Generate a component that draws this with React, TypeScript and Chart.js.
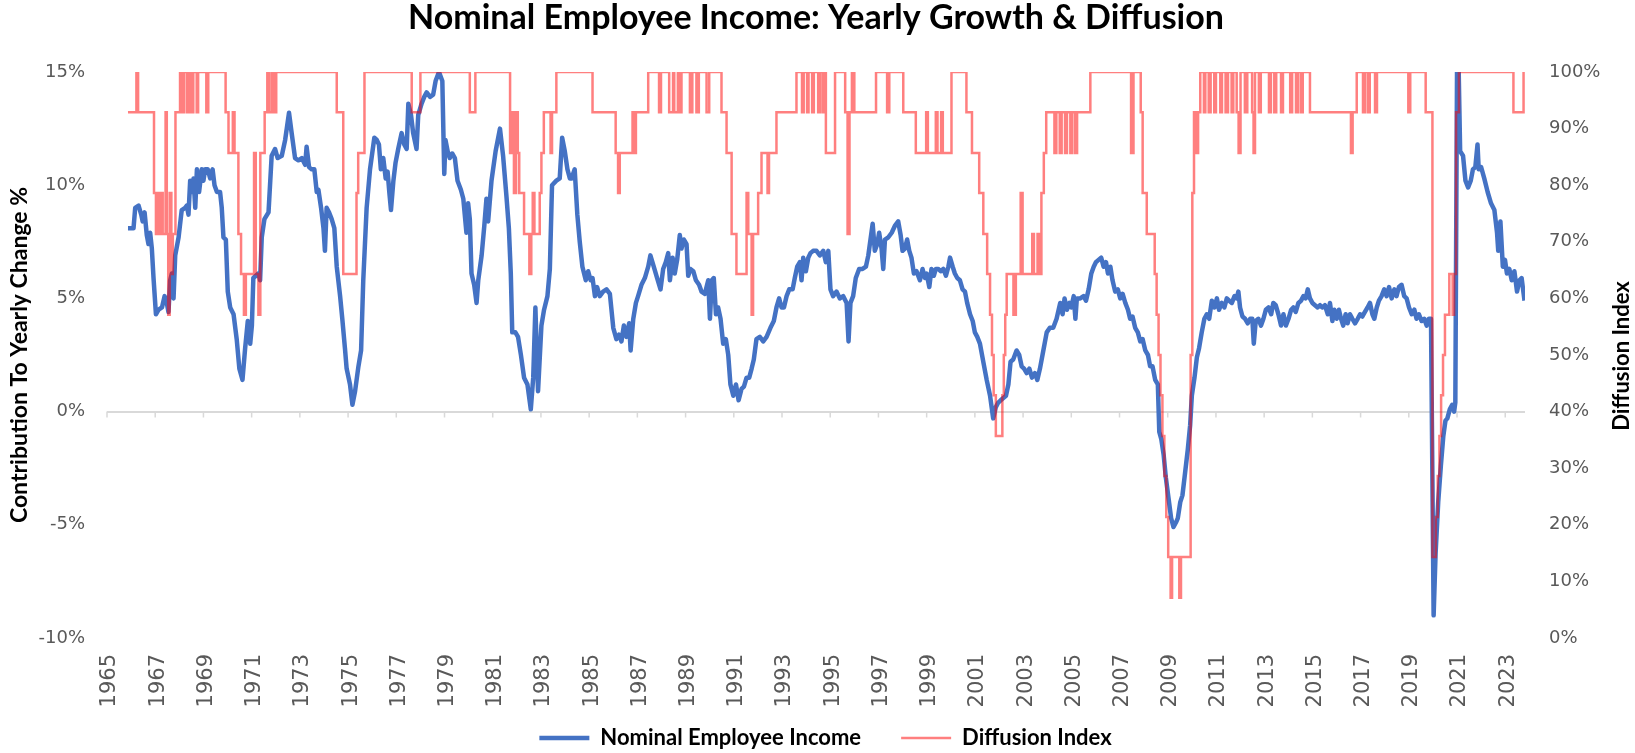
import React, { useEffect, useRef } from 'react';
import { Chart, registerables } from 'chart.js';

Chart.register(...registerables);

const chartTitle = 'Nominal Employee Income: Yearly Growth & Diffusion';
const leftAxisTitle = 'Contribution To Yearly Change %';
const rightAxisTitle = 'Diffusion Index';
const seriesNames = ['Nominal Employee Income', 'Diffusion Index'];

const tickYears = [1965, 1967, 1969, 1971, 1973, 1975, 1977, 1979, 1981, 1983, 1985, 1987, 1989, 1991, 1993, 1995, 1997, 1999, 2001, 2003, 2005, 2007, 2009, 2011, 2013, 2015, 2017, 2019, 2021, 2023];
const leftTicks = [-10, -5, 0, 5, 10, 15];
const rightTicks = [0, 10, 20, 30, 40, 50, 60, 70, 80, 90, 100];

// [year, yearly % change]
const incomeGrowth: [number, number][] = [
  [1965.87, 8.1], [1966.1, 8.1], [1966.17, 9.0], [1966.31, 9.1], [1966.42, 8.7], [1966.48, 8.4], [1966.56, 8.8], [1966.65, 7.8], [1966.72, 7.4], [1966.79, 7.9], [1966.86, 7.2], [1966.93, 5.9],
  [1967.03, 4.3], [1967.14, 4.5], [1967.28, 4.6], [1967.39, 5.1], [1967.48, 4.8], [1967.55, 4.4], [1967.62, 5.8], [1967.69, 6.1], [1967.76, 5.0], [1967.83, 6.9], [1967.97, 7.7],
  [1968.1, 8.9], [1968.24, 9.0], [1968.31, 9.1], [1968.38, 8.7], [1968.45, 10.2], [1968.55, 9.7], [1968.59, 10.3], [1968.66, 9.0], [1968.73, 10.7], [1968.82, 9.7], [1968.93, 10.7],
  [1969.0, 10.2], [1969.07, 10.7], [1969.18, 10.7], [1969.28, 10.3], [1969.38, 10.7], [1969.46, 10.0], [1969.56, 9.7], [1969.69, 9.7], [1969.76, 9.0], [1969.83, 7.7], [1969.93, 7.6],
  [1970.01, 5.3], [1970.11, 4.6], [1970.25, 4.3], [1970.38, 3.2], [1970.49, 1.9], [1970.62, 1.4], [1970.73, 2.8], [1970.84, 4.0], [1970.94, 3.0],
  [1971.01, 3.8], [1971.07, 5.9], [1971.28, 6.1], [1971.35, 5.8], [1971.42, 7.7], [1971.53, 8.5], [1971.7, 8.8], [1971.83, 11.3], [1971.97, 11.6],
  [1972.08, 11.2], [1972.25, 11.3], [1972.39, 12.0], [1972.55, 13.2], [1972.66, 12.3], [1972.8, 11.2], [1972.94, 11.1],
  [1973.08, 11.2], [1973.22, 10.9], [1973.28, 11.7], [1973.38, 10.8], [1973.49, 10.7], [1973.6, 10.7], [1973.7, 9.7], [1973.77, 9.8], [1973.88, 9.0], [1973.98, 8.1],
  [1974.04, 7.1], [1974.11, 9.0], [1974.21, 8.8], [1974.32, 8.5], [1974.43, 8.1], [1974.53, 6.4], [1974.67, 5.1], [1974.76, 4.1], [1974.87, 2.8], [1974.94, 1.9],
  [1975.08, 1.2], [1975.18, 0.3], [1975.29, 0.9], [1975.43, 2.0], [1975.54, 2.7], [1975.63, 5.8], [1975.77, 9.0], [1975.91, 10.7],
  [1976.09, 12.1], [1976.19, 12.0], [1976.28, 11.8], [1976.36, 10.7], [1976.46, 11.2], [1976.56, 10.3], [1976.64, 10.6], [1976.71, 9.7], [1976.78, 8.9], [1976.88, 10.2], [1976.97, 11.0],
  [1977.08, 11.6], [1977.22, 12.3], [1977.33, 11.8], [1977.43, 11.6], [1977.5, 13.6], [1977.61, 13.1], [1977.7, 12.3], [1977.84, 11.6], [1977.91, 13.1],
  [1978.05, 13.6], [1978.16, 13.9], [1978.26, 14.1], [1978.4, 13.9], [1978.53, 14.0], [1978.63, 14.6], [1978.77, 15.0], [1978.91, 14.6], [1978.99, 10.5],
  [1979.04, 12.0], [1979.13, 11.5], [1979.22, 11.2], [1979.32, 11.4], [1979.43, 11.2], [1979.54, 10.2], [1979.68, 9.8], [1979.78, 9.4], [1979.91, 7.9], [1979.98, 9.2],
  [1980.05, 8.5], [1980.12, 6.1], [1980.23, 5.6], [1980.33, 4.8], [1980.4, 5.8], [1980.54, 6.9], [1980.65, 8.2], [1980.74, 9.4], [1980.81, 8.4], [1980.95, 10.2],
  [1981.12, 11.5], [1981.3, 12.5], [1981.43, 11.3], [1981.57, 9.5], [1981.67, 8.1], [1981.75, 6.1], [1981.81, 3.5], [1981.94, 3.5],
  [1982.05, 3.3], [1982.17, 2.5], [1982.3, 1.5], [1982.44, 1.2], [1982.58, 0.1], [1982.68, 1.5], [1982.77, 4.6], [1982.88, 0.9],
  [1983.02, 3.8], [1983.13, 4.5], [1983.27, 5.1], [1983.37, 6.3], [1983.46, 10.0], [1983.64, 10.2], [1983.78, 10.3], [1983.88, 12.1], [1983.99, 11.5],
  [1984.1, 10.7], [1984.2, 10.3], [1984.27, 10.3], [1984.4, 10.7], [1984.51, 8.7], [1984.61, 7.5], [1984.72, 6.4], [1984.86, 5.8], [1984.96, 6.2],
  [1985.06, 5.8], [1985.14, 5.9], [1985.24, 5.1], [1985.33, 5.5], [1985.44, 5.1], [1985.58, 5.3], [1985.72, 5.4], [1985.86, 5.2],
  [1986.0, 3.7], [1986.13, 3.2], [1986.24, 3.4], [1986.34, 3.1], [1986.44, 3.8], [1986.55, 3.3], [1986.66, 3.9], [1986.72, 2.7], [1986.83, 4.1], [1986.94, 4.8],
  [1987.03, 5.1], [1987.17, 5.6], [1987.31, 5.9], [1987.45, 6.4], [1987.54, 6.9], [1987.68, 6.4], [1987.82, 5.9], [1987.96, 5.4],
  [1988.07, 6.3], [1988.18, 6.6], [1988.28, 7.0], [1988.35, 5.8], [1988.46, 6.8], [1988.55, 6.1], [1988.65, 6.7], [1988.76, 7.8], [1988.83, 7.2], [1988.93, 7.6],
  [1989.04, 7.4], [1989.11, 6.0], [1989.2, 6.3], [1989.32, 6.2], [1989.43, 5.8], [1989.56, 5.6], [1989.66, 5.3], [1989.8, 5.2], [1989.94, 5.8],
  [1990.01, 4.1], [1990.09, 5.8], [1990.17, 5.9], [1990.26, 4.3], [1990.35, 4.6], [1990.45, 4.1], [1990.56, 3.0], [1990.67, 3.2], [1990.77, 2.5], [1990.86, 1.2], [1990.98, 0.7],
  [1991.09, 1.2], [1991.2, 0.5], [1991.32, 1.0], [1991.42, 1.1], [1991.53, 1.5], [1991.64, 1.5], [1991.74, 1.9], [1991.83, 2.3], [1991.94, 3.2],
  [1992.08, 3.3], [1992.22, 3.1], [1992.36, 3.3], [1992.52, 3.7], [1992.66, 4.0], [1992.77, 4.6], [1992.88, 5.0], [1992.98, 4.6],
  [1993.08, 4.6], [1993.19, 5.1], [1993.3, 5.4], [1993.44, 5.4], [1993.53, 5.9], [1993.63, 6.4], [1993.74, 6.6], [1993.81, 5.8], [1993.88, 6.8], [1993.99, 6.2],
  [1994.09, 6.8], [1994.18, 7.0], [1994.29, 7.1], [1994.43, 7.1], [1994.57, 6.9], [1994.71, 7.1], [1994.82, 6.6], [1994.92, 7.1],
  [1995.01, 5.4], [1995.12, 5.1], [1995.26, 5.3], [1995.4, 5.0], [1995.54, 5.1], [1995.68, 4.8], [1995.76, 3.1], [1995.84, 4.8], [1995.95, 5.1],
  [1996.06, 5.9], [1996.2, 6.3], [1996.34, 6.3], [1996.48, 6.4], [1996.58, 6.9], [1996.67, 7.6], [1996.76, 8.3], [1996.85, 7.1], [1996.95, 7.4],
  [1997.03, 7.9], [1997.13, 7.2], [1997.2, 6.3], [1997.27, 7.6], [1997.41, 7.7], [1997.55, 7.9], [1997.68, 8.2], [1997.82, 8.4], [1997.92, 7.8],
  [1998.0, 7.1], [1998.1, 7.2], [1998.19, 7.6], [1998.28, 7.1], [1998.37, 6.8], [1998.47, 6.1], [1998.58, 6.2], [1998.72, 5.8], [1998.83, 6.3], [1998.93, 5.9],
  [1999.0, 6.1], [1999.11, 5.5], [1999.2, 6.3], [1999.3, 6.0], [1999.38, 6.3], [1999.48, 6.3], [1999.58, 6.2], [1999.69, 6.3], [1999.8, 6.0], [1999.9, 6.4], [1999.97, 6.8],
  [2000.08, 6.4], [2000.17, 6.1], [2000.27, 5.9], [2000.38, 5.8], [2000.49, 5.4], [2000.59, 5.3], [2000.68, 4.8], [2000.8, 4.3], [2000.91, 4.0],
  [2001.0, 3.5], [2001.1, 3.3], [2001.21, 3.0], [2001.35, 2.2], [2001.49, 1.4], [2001.63, 0.7], [2001.76, -0.3], [2001.87, 0.2], [2001.97, 0.4],
  [2002.07, 0.5], [2002.18, 0.6], [2002.29, 0.7], [2002.39, 1.2], [2002.48, 2.2], [2002.59, 2.3], [2002.73, 2.7], [2002.84, 2.5], [2002.94, 2.0],
  [2003.04, 1.9], [2003.15, 1.7], [2003.26, 1.9], [2003.37, 1.5], [2003.49, 1.7], [2003.59, 1.4], [2003.7, 1.9], [2003.84, 2.7], [2003.98, 3.5],
  [2004.11, 3.7], [2004.25, 3.7], [2004.39, 4.1], [2004.54, 4.8], [2004.64, 4.3], [2004.72, 5.0], [2004.82, 4.5], [2004.92, 4.8],
  [2005.0, 4.6], [2005.1, 5.1], [2005.17, 4.1], [2005.23, 5.0], [2005.37, 5.0], [2005.51, 5.1], [2005.61, 4.9], [2005.72, 5.4], [2005.83, 6.1], [2005.93, 6.4],
  [2006.02, 6.6], [2006.13, 6.7], [2006.24, 6.8], [2006.34, 6.4], [2006.44, 6.6], [2006.52, 6.1], [2006.62, 6.4], [2006.71, 5.8], [2006.82, 5.3], [2006.93, 5.4],
  [2007.03, 5.0], [2007.13, 5.2], [2007.24, 4.8], [2007.35, 4.5], [2007.44, 4.1], [2007.54, 4.2], [2007.65, 3.7], [2007.76, 3.5], [2007.86, 3.1], [2007.96, 3.2],
  [2008.07, 2.7], [2008.18, 2.5], [2008.27, 2.0], [2008.37, 2.0], [2008.48, 1.4], [2008.59, 1.2], [2008.65, -0.9], [2008.73, -1.2], [2008.83, -1.9], [2008.92, -2.9],
  [2009.03, -3.8], [2009.14, -4.7], [2009.24, -5.1], [2009.34, -4.9], [2009.42, -4.7], [2009.52, -4.0], [2009.61, -3.7], [2009.72, -2.7], [2009.83, -1.7], [2009.93, -0.6],
  [2010.0, 0.7], [2010.11, 1.5], [2010.21, 2.4], [2010.3, 2.8], [2010.41, 3.5], [2010.52, 4.1], [2010.62, 4.3], [2010.72, 4.1], [2010.83, 4.9], [2010.94, 4.6],
  [2011.04, 5.0], [2011.13, 4.5], [2011.24, 4.8], [2011.35, 4.6], [2011.45, 5.0], [2011.55, 4.9], [2011.66, 4.8], [2011.77, 5.1], [2011.86, 5.0], [2011.93, 5.3],
  [2012.0, 4.6], [2012.1, 4.2], [2012.21, 4.1], [2012.32, 3.9], [2012.42, 4.1], [2012.51, 4.1], [2012.57, 3.0], [2012.65, 4.0], [2012.76, 4.1], [2012.87, 3.8], [2012.97, 4.1],
  [2013.07, 4.5], [2013.18, 4.6], [2013.29, 4.3], [2013.38, 4.8], [2013.48, 4.7], [2013.59, 4.3], [2013.7, 3.8], [2013.8, 4.3], [2013.9, 3.8],
  [2014.01, 4.1], [2014.12, 4.5], [2014.21, 4.6], [2014.31, 4.4], [2014.42, 4.8], [2014.53, 4.9], [2014.63, 5.1], [2014.72, 5.0], [2014.81, 5.4], [2014.9, 5.0],
  [2015.0, 4.8], [2015.11, 4.7], [2015.22, 4.6], [2015.32, 4.7], [2015.41, 4.6], [2015.52, 4.7], [2015.64, 4.3], [2015.73, 4.8], [2015.83, 4.0], [2015.91, 4.5],
  [2016.01, 4.1], [2016.1, 4.5], [2016.19, 4.1], [2016.28, 3.8], [2016.38, 4.3], [2016.46, 3.9], [2016.56, 4.3], [2016.66, 4.1], [2016.77, 3.9], [2016.88, 4.1], [2016.98, 4.3],
  [2017.07, 4.2], [2017.18, 4.4], [2017.29, 4.6], [2017.39, 4.8], [2017.49, 4.3], [2017.57, 4.1], [2017.67, 4.6], [2017.76, 4.9], [2017.87, 5.1], [2017.98, 5.4],
  [2018.08, 5.1], [2018.18, 5.5], [2018.29, 5.0], [2018.4, 5.4], [2018.49, 5.1], [2018.59, 5.5], [2018.7, 5.6], [2018.81, 5.1], [2018.91, 5.0],
  [2019.01, 4.6], [2019.12, 4.3], [2019.23, 4.5], [2019.32, 4.1], [2019.42, 4.3], [2019.53, 4.0], [2019.64, 4.1], [2019.74, 3.8], [2019.83, 4.1], [2019.92, 4.1],
  [2020.03, -9.0], [2020.11, -6.3], [2020.22, -4.0], [2020.33, -2.4], [2020.43, -1.1], [2020.52, -0.4], [2020.6, -0.3], [2020.7, 0.1], [2020.8, 0.3], [2020.88, 0.0], [2020.93, 0.4],
  [2021.0, 15.0], [2021.07, 15.0], [2021.13, 11.5], [2021.25, 11.3], [2021.35, 10.2], [2021.46, 9.9], [2021.57, 10.2], [2021.66, 10.7], [2021.76, 10.8], [2021.85, 11.8], [2021.9, 10.7],
  [2022.0, 10.8], [2022.13, 10.3], [2022.27, 9.7], [2022.41, 9.2], [2022.55, 8.9], [2022.66, 7.9], [2022.71, 7.1], [2022.8, 8.4], [2022.9, 6.4], [2022.99, 6.7],
  [2023.07, 6.1], [2023.17, 6.3], [2023.27, 5.8], [2023.38, 6.2], [2023.49, 5.3], [2023.59, 5.8], [2023.68, 5.9], [2023.8, 4.9],
];

// [year, diffusion index %] — each value holds until the next point
const diffusionIndex: [number, number][] = [
  [1965.87, 92.9], [1966.22, 100], [1966.29, 92.9], [1966.95, 78.6], [1967.03, 71.4], [1967.1, 78.6], [1967.17, 71.4], [1967.24, 78.6], [1967.31, 71.4], [1967.43, 92.9],
  [1967.48, 71.4], [1967.54, 57.1], [1967.6, 78.6], [1967.67, 64.3], [1967.73, 71.4], [1967.84, 92.9], [1968.03, 100], [1968.12, 92.9], [1968.2, 100], [1968.32, 92.9],
  [1968.4, 100], [1968.5, 92.9], [1968.58, 100], [1968.72, 92.9], [1968.78, 100], [1969.12, 92.9], [1969.2, 100], [1969.92, 92.9], [1970.04, 85.7], [1970.22, 92.9],
  [1970.29, 85.7], [1970.45, 71.4], [1970.56, 64.3], [1970.68, 57.1], [1970.76, 64.3], [1971.1, 85.7], [1971.17, 64.3], [1971.28, 57.1], [1971.36, 85.7], [1971.54, 92.9],
  [1971.65, 100], [1971.74, 92.9], [1971.85, 100], [1971.92, 92.9], [1972.02, 100], [1974.53, 92.9], [1974.8, 64.3], [1975.35, 78.6], [1975.42, 85.7], [1975.68, 100],
  [1977.64, 92.9], [1978.0, 100], [1980.05, 92.9], [1980.28, 100], [1981.72, 85.7], [1981.8, 92.9], [1981.88, 78.6], [1981.97, 92.9], [1982.04, 85.7], [1982.1, 78.6],
  [1982.3, 71.4], [1982.52, 64.3], [1982.6, 71.4], [1982.66, 78.6], [1982.73, 71.4], [1982.95, 78.6], [1983.02, 85.7], [1983.12, 92.9], [1983.4, 85.7], [1983.46, 92.9],
  [1983.64, 100], [1985.14, 92.9], [1986.1, 85.7], [1986.2, 78.6], [1986.27, 85.7], [1986.8, 92.9], [1986.86, 85.7], [1986.94, 92.9], [1987.45, 100], [1987.9, 92.9],
  [1987.98, 100], [1988.32, 92.9], [1988.48, 100], [1988.53, 92.9], [1988.68, 100], [1988.75, 92.9], [1988.83, 100], [1989.18, 92.9], [1989.28, 100], [1989.45, 92.9],
  [1989.55, 100], [1989.87, 92.9], [1989.98, 100], [1990.49, 92.9], [1990.7, 85.7], [1990.91, 71.4], [1991.11, 64.3], [1991.53, 78.6], [1991.6, 71.4], [1991.74, 57.1],
  [1991.8, 71.4], [1992.01, 78.6], [1992.15, 85.7], [1992.4, 78.6], [1992.46, 85.7], [1992.77, 92.9], [1993.6, 100], [1993.83, 92.9], [1993.9, 100], [1994.04, 92.9],
  [1994.1, 100], [1994.25, 92.9], [1994.32, 100], [1994.5, 92.9], [1994.57, 100], [1994.68, 92.9], [1994.75, 100], [1994.82, 85.7], [1995.2, 100], [1995.62, 92.9],
  [1995.72, 71.4], [1995.8, 92.9], [1995.9, 100], [1996.0, 92.9], [1996.9, 100], [1997.36, 92.9], [1997.45, 100], [1998.03, 92.9], [1998.55, 85.7], [1998.98, 92.9],
  [1999.05, 85.7], [1999.38, 92.9], [1999.45, 85.7], [1999.6, 92.9], [1999.67, 85.7], [2000.03, 100], [2000.65, 92.9], [2000.88, 85.7], [2001.18, 78.6], [2001.35, 71.4],
  [2001.51, 64.3], [2001.63, 57.1], [2001.71, 50], [2001.78, 42.9], [2001.87, 35.7], [2002.14, 42.9], [2002.2, 50], [2002.26, 57.1], [2002.32, 64.3], [2002.6, 57.1],
  [2002.7, 64.3], [2002.9, 78.6], [2002.98, 64.3], [2003.38, 71.4], [2003.45, 64.3], [2003.6, 71.4], [2003.67, 64.3], [2003.76, 78.6], [2003.86, 85.7], [2003.96, 92.9],
  [2004.3, 85.7], [2004.38, 92.9], [2004.52, 85.7], [2004.6, 92.9], [2004.74, 85.7], [2004.82, 92.9], [2004.96, 85.7], [2005.04, 92.9], [2005.16, 85.7], [2005.24, 92.9],
  [2005.79, 100], [2007.48, 85.7], [2007.58, 100], [2007.88, 92.9], [2007.96, 78.6], [2008.13, 71.4], [2008.46, 64.3], [2008.54, 57.1],
  [2008.62, 50], [2008.7, 42.9], [2008.78, 35.7], [2008.86, 28.6], [2008.94, 21.4], [2009.02, 14.3], [2009.12, 7.1], [2009.18, 14.3], [2009.48, 7.1], [2009.55, 14.3],
  [2009.95, 50], [2010.02, 78.6], [2010.09, 92.9], [2010.18, 85.7], [2010.26, 92.9], [2010.35, 100], [2010.5, 92.9], [2010.56, 100], [2010.7, 92.9], [2010.78, 100],
  [2010.93, 92.9], [2011.0, 100], [2011.18, 92.9], [2011.25, 100], [2011.4, 92.9], [2011.5, 100], [2011.65, 92.9], [2011.72, 100], [2011.86, 92.9], [2011.94, 85.7],
  [2012.02, 100], [2012.2, 92.9], [2012.3, 100], [2012.5, 92.9], [2012.56, 85.7], [2012.62, 100], [2012.78, 92.9], [2012.86, 100], [2013.2, 92.9], [2013.28, 100],
  [2013.42, 92.9], [2013.5, 100], [2013.7, 92.9], [2013.78, 100], [2014.08, 92.9], [2014.16, 100], [2014.32, 92.9], [2014.4, 100], [2014.52, 92.9], [2014.6, 100],
  [2014.9, 92.9], [2016.6, 85.7], [2016.67, 92.9], [2016.84, 100], [2017.1, 92.9], [2017.18, 100], [2017.3, 92.9], [2017.38, 100], [2017.6, 92.9], [2017.68, 100],
  [2018.98, 92.9], [2019.06, 100], [2019.7, 92.9], [2019.98, 14.3], [2020.12, 21.4], [2020.2, 28.6], [2020.27, 35.7], [2020.34, 42.9], [2020.42, 50], [2020.5, 57.1],
  [2020.68, 64.3], [2020.82, 57.1], [2020.88, 64.3], [2020.96, 92.9], [2021.08, 100], [2023.34, 92.9], [2023.76, 100], [2023.8, 100],
];

const BLUE = '#4472C4';
const RED = 'rgba(255, 0, 0, 0.5)';
const TICK_GRAY = '#595959';
const AXIS_GRAY = '#d9d9d9';

export default function App() {
  const ref = useRef<HTMLCanvasElement | null>(null);

  useEffect(() => {
    const canvas = ref.current;
    if (!canvas) return;

    const zeroTicks = {
      id: 'zeroTicks',
      beforeDatasetsDraw(chart: any) {
        const xs = chart.scales.x;
        const ys = chart.scales.y;
        const y0 = ys.getPixelForValue(0);
        const ctx = chart.ctx;
        ctx.save();
        ctx.strokeStyle = AXIS_GRAY;
        ctx.lineWidth = 1.5;
        ctx.beginPath();
        for (const t of tickYears) {
          const px = xs.getPixelForValue(t);
          ctx.moveTo(px, y0);
          ctx.lineTo(px, y0 + 6);
        }
        ctx.stroke();
        ctx.restore();
      },
    };

    const rightTitle = {
      id: 'rightTitle',
      afterDraw(chart: any) {
        const ctx = chart.ctx;
        const area = chart.chartArea;
        ctx.save();
        ctx.translate(1622, (area.top + area.bottom) / 2 + 1);
        ctx.rotate(-Math.PI / 2);
        ctx.font = 'bold 22px Lato';
        ctx.fillStyle = '#000';
        ctx.textAlign = 'center';
        ctx.textBaseline = 'middle';
        ctx.fillText(rightAxisTitle, 0, 0);
        ctx.restore();
      },
    };

    const chart = new Chart(canvas, {
      type: 'line',
      data: {
        datasets: [
          {
            label: seriesNames[0],
            data: incomeGrowth.map(([x, y]) => ({ x, y })),
            yAxisID: 'y',
            borderColor: BLUE,
            backgroundColor: BLUE,
            borderWidth: 4.5,
            pointRadius: 0,
            tension: 0,
            borderJoinStyle: 'round',
            order: 1,
          },
          {
            label: seriesNames[1],
            data: diffusionIndex.map(([x, y]) => ({ x, y })),
            yAxisID: 'y1',
            borderColor: RED,
            backgroundColor: RED,
            borderWidth: 2.5,
            pointRadius: 0,
            stepped: true,
            order: 0,
          },
        ],
      },
      options: {
        responsive: false,
        animation: false,
        layout: { padding: { left: 16, right: 0, top: 0, bottom: -6 } },
        plugins: {
          title: {
            display: true,
            text: chartTitle,
            fullSize: false,
            color: '#000',
            font: { family: 'Lato', size: 34, weight: 'bold' },
            padding: { top: -2, bottom: 33.2 },
          },
          legend: {
            position: 'bottom',
            labels: {
              usePointStyle: true,
              pointStyle: 'line',
              pointStyleWidth: 50,
              padding: 40,
              color: '#000',
              font: { family: 'Lato', size: 22, weight: 'bold' },
              sort: (a: any, b: any) => a.datasetIndex - b.datasetIndex,
            },
          },
          tooltip: { enabled: false },
        },
        scales: {
          x: {
            type: 'linear',
            min: 1965,
            max: 2023.82,
            afterBuildTicks: (s: any) => {
              s.ticks = tickYears.map((v) => ({ value: v }));
            },
            afterFit: (s: any) => {
              s.height = 49;
              // let the rotated year labels run past the scale box (no clipping)
              s._computeLabelArea = () => undefined;
            },
            grid: { display: false, drawTicks: false },
            border: { display: false },
            ticks: {
              autoSkip: false,
              maxRotation: 90,
              minRotation: 90,
              padding: 16,
              labelOffset: 3,
              color: TICK_GRAY,
              font: { family: 'DejaVu Sans', size: 21 },
              callback: (v: any) => String(v),
            },
          },
          y: {
            position: 'left',
            min: -10,
            max: 15,
            afterBuildTicks: (s: any) => {
              s.ticks = leftTicks.map((v) => ({ value: v }));
            },
            afterFit: (s: any) => {
              s.width = 91;
            },
            grid: {
              drawTicks: false,
              lineWidth: 2,
              color: (c: any) => (c.tick && c.tick.value === 0 ? AXIS_GRAY : 'rgba(0,0,0,0)'),
            },
            border: { display: false },
            ticks: {
              padding: 22,
              color: TICK_GRAY,
              font: { family: 'DejaVu Sans', size: 18 },
              callback: (v: any) => v + '%',
            },
            title: {
              display: true,
              text: leftAxisTitle,
              color: '#000',
              font: { family: 'Lato', size: 23, weight: 'bold' },
              padding: { top: -10, bottom: 0 },
            },
          },
          y1: {
            position: 'right',
            min: 0,
            max: 100,
            afterBuildTicks: (s: any) => {
              s.ticks = rightTicks.map((v) => ({ value: v }));
            },
            afterFit: (s: any) => {
              s.width = 110;
            },
            grid: { display: false, drawTicks: false },
            border: { display: false },
            ticks: {
              padding: 24,
              color: TICK_GRAY,
              font: { family: 'DejaVu Sans', size: 18 },
              callback: (v: any) => v + '%',
            },
          },
        },
      } as any,
      plugins: [zeroTicks, rightTitle],
    });

    let alive = true;
    if ((document as any).fonts && (document as any).fonts.ready) {
      (document as any).fonts.ready.then(() => {
        if (alive) chart.update();
      });
    }

    return () => {
      alive = false;
      chart.destroy();
    };
  }, []);

  return (
    <div style={{ position: 'absolute', left: 0, top: 0, width: 1635, height: 753, background: '#fff' }}>
      <canvas ref={ref} width={1635} height={753} style={{ display: 'block', width: 1635, height: 753 }} />
    </div>
  );
}
